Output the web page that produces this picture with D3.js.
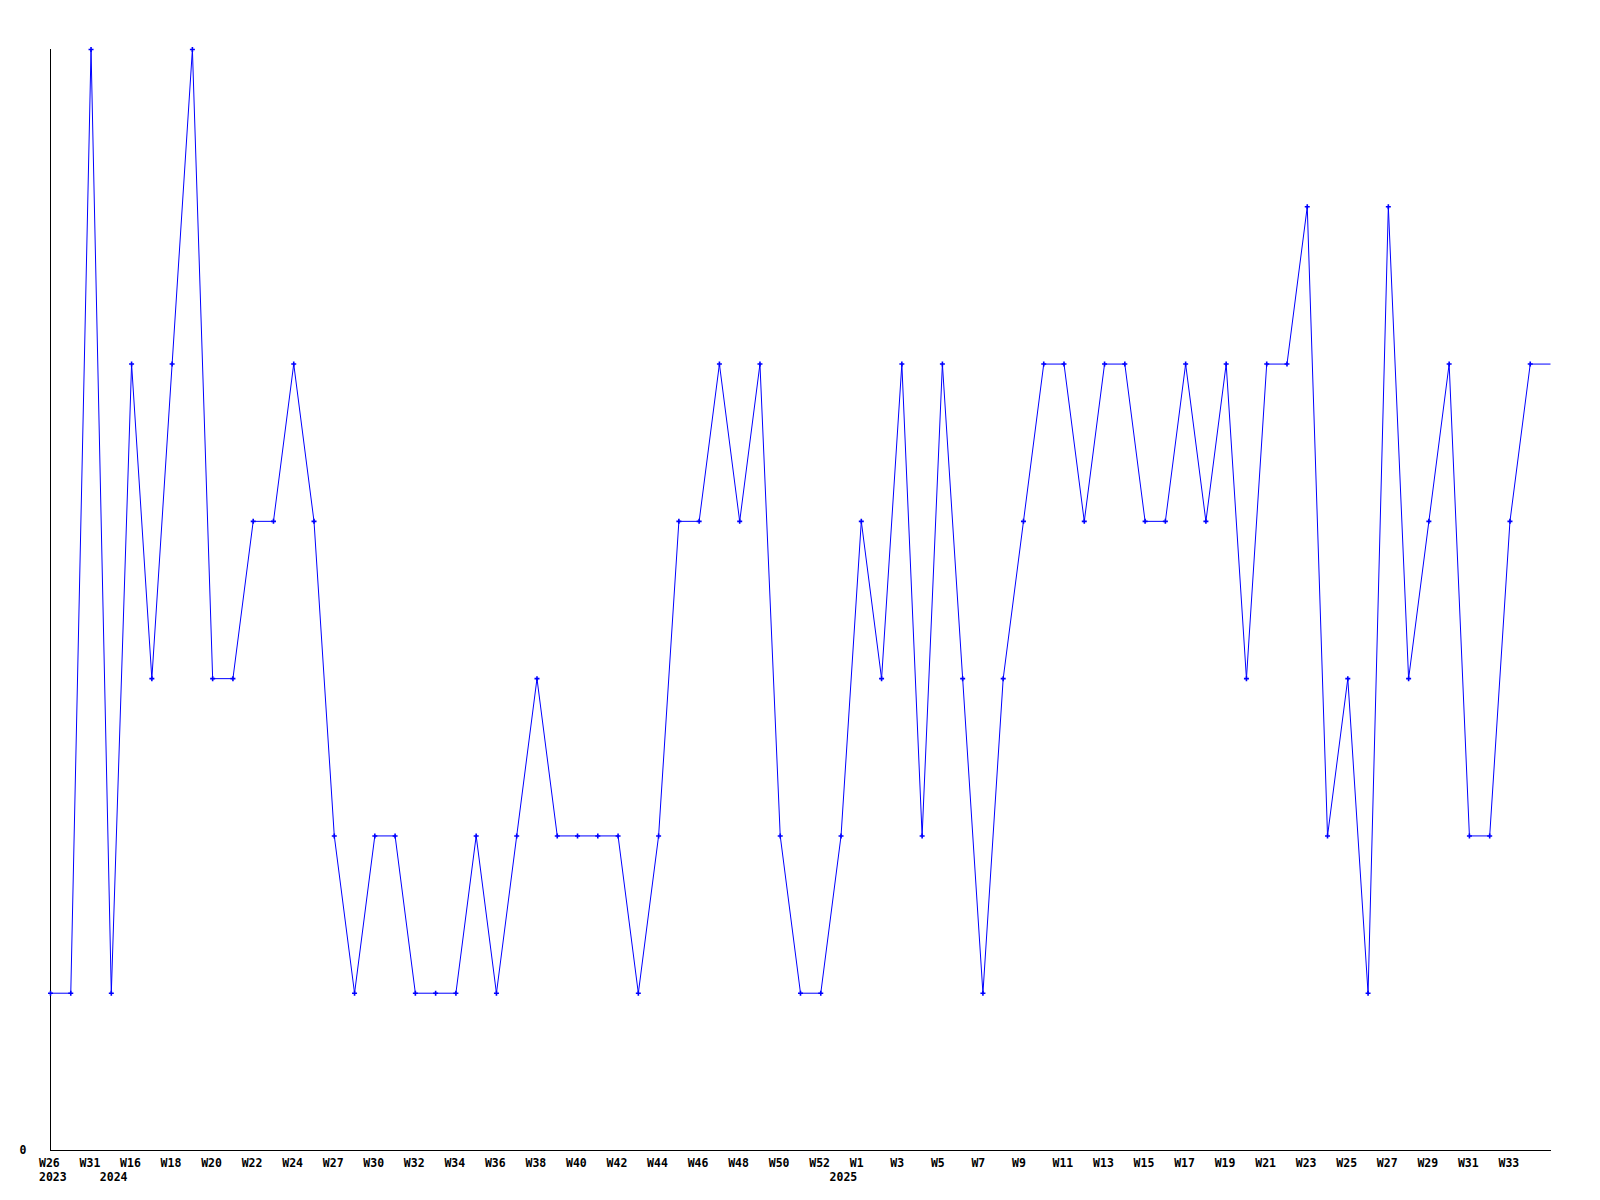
<!DOCTYPE html>
<html><head><meta charset="utf-8">
<script src="https://cdn.jsdelivr.net/npm/d3@7"></script>
<style>
html,body{margin:0;padding:0;background:#fff;}
svg text{font-family:"DejaVu Sans Mono","Liberation Mono",monospace;font-weight:bold;font-size:11.5px;fill:#000;}
</style></head>
<body>
<svg id="chart" width="1600" height="1200"></svg>
<script>
const weekLabels = ["W26","W31","W16","W18","W20","W22","W24","W27","W30","W32","W34","W36","W38","W40","W42","W44","W46","W48","W50","W52","W1","W3","W5","W7","W9","W11","W13","W15","W17","W19","W21","W23","W25","W27","W29","W31","W33"];
const weekLabelIndex = [0,2,4,6,8,10,12,14,16,18,20,22,24,26,28,30,32,34,36,38,40,42,44,46,48,50,52,54,56,58,60,62,64,66,68,70,72];
const yearLabels = ["2023","2024","2025"];
const yearLabelIndex = [0,3,39];
const values = [1,1,7,1,5,3,5,7,3,3,4,4,5,4,2,1,2,2,1,1,1,2,1,2,3,2,2,2,2,1,2,4,4,5,4,5,2,1,1,2,4,3,5,2,5,3,1,3,4,5,5,4,5,5,4,4,5,4,5,3,5,5,6,2,3,1,6,3,4,5,2,2,4,5,5];
const yTicks = [0];

const svg = d3.select("#chart");
const x = d3.scaleLinear().domain([0, values.length - 1]).range([50, 1550]);
const y = d3.scaleLinear().domain([0, 7]).range([1150, 49]);

// axes lines
svg.append("line").attr("x1",50.5).attr("x2",50.5).attr("y1",y(7)).attr("y2",y(0)+0.5)
  .attr("stroke","#000").attr("stroke-width",1);
svg.append("line").attr("x1",50).attr("x2",1551).attr("y1",y(0)+0.5).attr("y2",y(0)+0.5)
  .attr("stroke","#000").attr("stroke-width",1);

// y tick labels
svg.selectAll("text.yt").data(yTicks).enter().append("text")
  .attr("class","yt").attr("x",26.5).attr("y",d=>y(d)+4).attr("text-anchor","end").text(d=>d);

// x labels
svg.selectAll("text.wk").data(weekLabels).enter().append("text")
  .attr("class","wk").attr("x",(d,i)=>x(weekLabelIndex[i]) - 11).attr("y",1166.5).text(d=>d);
svg.selectAll("text.yr").data(yearLabels).enter().append("text")
  .attr("class","yr").attr("x",(d,i)=>x(yearLabelIndex[i]) - 11).attr("y",1181).text(d=>d);

// line
const line = d3.line().x((d,i)=>x(i)+0.5).y(d=>y(d)+0.5);
svg.append("path").datum(values).attr("d",line).attr("fill","none")
  .attr("stroke","#0000ff").attr("stroke-width",1);

// markers (last point sits on the frame edge without a marker)
const pts = values.map((v,i)=>({i,v})).filter(p=>p.i < values.length - 1);
svg.selectAll("path.mk").data(pts).enter().append("path")
  .attr("class","mk")
  .attr("transform",d=>`translate(${x(d.i)+0.5},${y(d.v)+0.5})`)
  .attr("d","M-2.5,-0.8H-0.8V-2.5H0.8V-0.8H2.5V0.8H0.8V2.5H-0.8V0.8H-2.5Z")
  .attr("fill","#0000ff");
</script>
</body></html>
